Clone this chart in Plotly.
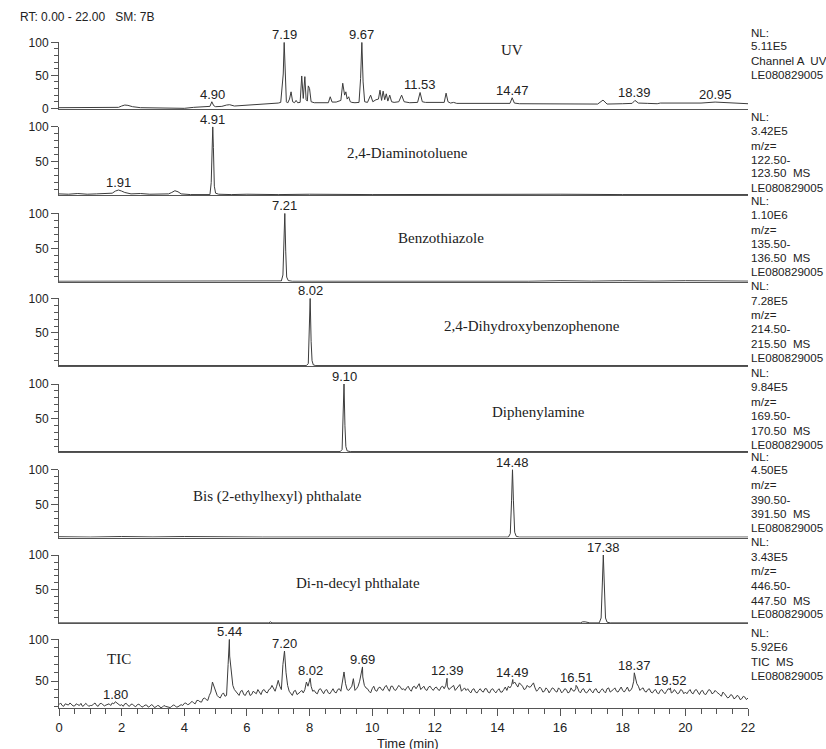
import plotly.graph_objects as go

# ---------------- data ----------------
# UV trace (Channel A), relative intensity vs retention time (min)
uv_t = [0, 1.5, 1.9, 2.0, 2.1, 2.2, 2.35, 2.6, 3.0, 3.6, 4.0, 4.3, 4.75, 4.82, 4.88, 4.94, 5.0, 5.2,
        5.35, 5.45, 5.6, 6.0, 6.5, 7.0, 7.08, 7.13, 7.16, 7.19, 7.22, 7.26, 7.3, 7.36, 7.41, 7.46,
        7.52, 7.57, 7.62, 7.7, 7.75, 7.8, 7.85, 7.89, 7.93, 7.96, 8.0, 8.05, 8.15, 8.4, 8.6, 8.66,
        8.72, 8.85, 9.0, 9.06, 9.12, 9.16, 9.2, 9.25, 9.3, 9.35, 9.45, 9.58, 9.63, 9.67, 9.71, 9.76,
        9.85, 9.95, 10.02, 10.12, 10.2, 10.25, 10.3, 10.35, 10.4, 10.45, 10.5, 10.56, 10.62, 10.7,
        10.85, 10.94, 11.02, 11.2, 11.45, 11.53, 11.6, 11.7, 11.8, 11.9, 12.2, 12.3, 12.36, 12.42,
        12.5, 12.6, 12.7, 13.0, 13.5, 14.0, 14.4, 14.47, 14.54, 14.7, 15.0, 15.3, 16.0, 17.2, 17.37,
        17.5, 18.0, 18.3, 18.39, 18.5, 18.8, 19.1, 19.2, 20.0, 20.5, 20.95, 21.2, 21.5, 22.0]
uv_v = [1, 1, 1.5, 3.5, 5, 4.5, 2.5, 1, 1, 0.5, 0, 1.5, 2, 3, 10, 4, 2.5, 3,
        5, 5.5, 3.5, 4.5, 6, 8, 9, 35, 52, 100, 50, 10, 8, 14, 25, 10,
        8.5, 12, 8.5, 9, 49, 15, 48, 13, 11, 34, 30, 10, 8.5, 8.5, 8.5, 17.5,
        9.5, 9.5, 12, 38, 20, 25, 14, 17.5, 10, 9, 8.5, 9, 45, 100, 40, 10,
        9, 20, 10, 13, 14, 27.5, 12, 26, 13, 22, 11, 20, 10, 9,
        10, 20, 10, 8.5, 9, 24, 10, 9, 9, 8.5, 8.5, 9, 23, 10,
        8, 9, 7.5, 7.5, 7, 7, 7.5, 16, 8, 7, 7, 6.5, 6.5, 6.5, 12.5,
        6.5, 7, 7.5, 12, 8, 7.5, 7, 8, 7.5, 8, 9.5, 9, 8, 7]

# Extracted ion chromatograms
dat_t = [0, 0.3, 0.6, 0.9, 1.2, 1.5, 1.7, 1.8, 1.9, 2.0, 2.1, 2.3, 2.6, 2.9, 3.2, 3.5, 3.6, 3.7,
         3.8, 3.9, 4.2, 4.6, 4.82, 4.86, 4.89, 4.91, 4.93, 4.96, 5.0, 5.1, 5.5, 6, 7, 8, 10, 12,
         14, 16, 18, 20, 22]
dat_v = [4, 3.5, 4.5, 3.5, 4, 4.5, 5, 8, 9.5, 8, 6, 4, 4.5, 3.5, 4, 4, 6, 8.5,
         7, 4, 3, 3, 3, 20, 80, 100, 70, 15, 5, 3.5, 3, 3.5, 3, 3.5, 3, 3.5,
         3, 3.5, 3, 3.5, 3]

bzt_t = [0, 6.95, 7.05, 7.10, 7.15, 7.18, 7.21, 7.24, 7.27, 7.32, 7.45, 15.0, 16.0, 17.0, 18.0,
         19.0, 20.0, 22.0]
bzt_v = [3, 3, 4, 3.5, 12, 60, 100, 45, 9, 4, 3, 3, 3.8, 3.2, 3.8, 3.2, 3.8, 3.2]

dhb_t = [0, 7.9, 7.96, 7.99, 8.02, 8.05, 8.08, 8.12, 8.2, 22]
dhb_v = [3, 3, 6, 40, 100, 38, 10, 4, 3, 3]

dpa_t = [0, 8.98, 9.04, 9.07, 9.10, 9.13, 9.16, 9.2, 9.3, 22]
dpa_v = [3, 3, 6, 45, 100, 40, 10, 4, 3, 3]

dehp_t = [0, 1, 2, 3, 4, 5, 6, 6.5, 14.35, 14.41, 14.45, 14.48, 14.51, 14.55, 14.6, 14.7, 22]
dehp_v = [3.5, 3, 3.8, 3.2, 3.8, 3.2, 3.6, 3, 3, 8, 55, 100, 55, 10, 4, 3, 3]

dndp_t = [0, 6.7, 6.75, 6.8, 16.65, 16.72, 16.8, 16.9, 16.95, 17.25, 17.31, 17.35, 17.38, 17.41,
          17.45, 17.5, 17.6, 22]
dndp_v = [3, 3, 4.5, 3, 3, 4.5, 4.5, 4, 3, 3, 10, 60, 100, 60, 10, 4, 3, 3]

# TIC: readings every 0.1 min from 0.0 to 22.0 ...
tic_step = 0.1
tic_grid = [22, 21, 23, 21.5, 22.5, 20.5, 22, 23.5, 21, 22, 21,
            22.5, 21, 23, 22, 21.5, 23, 24, 26, 23, 22,
            23, 21, 22.5, 20.5, 22, 21, 20, 21.5, 20, 21,
            19.5, 20.5, 19, 20, 18.5, 20, 21, 19.5, 22, 23.5,
            22, 25, 24, 27, 25.5, 29, 28, 33, 49, 40,
            31, 34, 32, 70, 60, 40, 35, 38, 34, 37,
            33, 38, 35, 36, 39, 37, 40, 45, 38, 51,
            40, 60, 45, 35, 38, 34, 37, 36, 49, 50,
            38, 36, 40, 37, 39, 36, 38, 37, 40, 38,
            61, 40, 42, 53, 41, 50, 55, 42, 38, 41,
            39, 42, 40, 43, 41, 44, 40, 42, 43, 41,
            42, 40, 43, 41, 47, 42, 40, 43, 41, 42,
            40, 43, 41, 44, 42, 45, 41, 46, 40, 39,
            38, 40, 37, 39, 38, 41, 37, 40, 38, 39,
            37, 40, 39, 42, 47, 45, 48, 44, 41, 43,
            46, 42, 40, 41, 38, 40, 39, 41, 37, 40,
            38, 40, 37, 39, 41, 38, 40, 37, 39, 38,
            40, 37, 39, 38, 41, 37, 40, 38, 41, 39,
            40, 38, 42, 55, 44, 41, 38, 40, 37, 39,
            36, 39, 37, 38, 40, 37, 38, 36, 39, 37,
            38, 36, 39, 37, 38, 35, 37, 39, 36, 37,
            34, 37, 33, 31, 33, 30, 32, 29, 31, 30]
# ... readings halfway between them (0.05, 0.15, ... 21.95) ...
tic_mid = [24, 20, 22, 24, 20.5, 23, 21, 20, 23.5, 20,
           21, 24, 20, 23.5, 20.5, 22, 21, 23, 24, 21,
           20, 23.5, 20, 22.5, 19.5, 22.5, 19, 21.5, 19, 22,
           18.5, 21, 18, 21, 19.5, 18.5, 21.5, 19, 20.5, 21,
           24, 22.5, 26, 23, 27, 25, 30, 27, 37, 44,
           33, 30, 36, 33, 80, 45, 38, 33, 39, 33,
           39, 34, 37, 40, 34, 40, 36, 41, 42, 44,
           44, 70, 60, 38, 33, 39, 35, 39, 40, 44,
           44, 39, 35, 41, 35, 40, 35, 41, 36, 41,
           50, 47, 39, 44, 39, 44, 60, 45, 41, 36,
           44, 38, 43, 39, 45, 38, 44, 39, 45, 40,
           39, 44, 38, 44, 45, 40, 44, 39, 44, 39,
           43, 39, 44, 45, 40, 44, 39, 43, 38, 42,
           41, 36, 41, 36, 41, 37, 41, 36, 41, 36,
           41, 37, 43, 44, 45, 49, 43, 46, 40, 45,
           43, 48, 38, 43, 37, 42, 36, 42, 38, 42,
           36, 41, 36, 42, 38, 43, 36, 41, 36, 41,
           36, 41, 36, 41, 36, 42, 38, 42, 37, 43,
           37, 43, 39, 50, 47, 39, 42, 37, 41, 36,
           40, 35, 40, 35, 41, 36, 40, 35, 40, 35,
           35, 40, 35, 40, 34, 39, 34, 40, 35, 39,
           36, 32, 35, 30, 34, 29, 33, 28, 32, 28]
# ... and the labelled apexes
tic_peak_t = [1.80, 5.44, 7.20, 8.02, 9.69, 12.39, 14.49, 16.51, 18.37, 19.52]
tic_peak_v = [25.5, 100, 86, 53.5, 67, 53.5, 52, 45, 60, 42]

# Labelled peaks of the upper panels
uv_labels_t = [4.90, 7.19, 9.67, 11.53, 14.47, 18.39, 20.95]
uv_labels_v = [10, 100, 100, 24, 16, 12, 9.5]
dat_labels = [(1.91, 9.5), (4.91, 100)]

panel_names = ["UV", "2,4-Diaminotoluene", "Benzothiazole", "2,4-Dihydroxybenzophenone",
               "Diphenylamine", "Bis (2-ethylhexyl) phthalate", "Di-n-decyl phthalate", "TIC"]
side_text = [
    ["NL:", "5.11E5", "Channel A  UV", "LE080829005"],
    ["NL:", "3.42E5", "m/z=", "122.50-", "123.50  MS", "LE080829005"],
    ["NL:", "1.10E6", "m/z=", "135.50-", "136.50  MS", "LE080829005"],
    ["NL:", "7.28E5", "m/z=", "214.50-", "215.50  MS", "LE080829005"],
    ["NL:", "9.84E5", "m/z=", "169.50-", "170.50  MS", "LE080829005"],
    ["NL:", "4.50E5", "m/z=", "390.50-", "391.50  MS", "LE080829005"],
    ["NL:", "3.43E5", "m/z=", "446.50-", "447.50  MS", "LE080829005"],
    ["NL:", "5.92E6", "TIC  MS", "LE080829005"],
]
x_ticks = [0, 2, 4, 6, 8, 10, 12, 14, 16, 18, 20, 22]

# ---------------- build TIC series ----------------
tic_pts = {round(i * tic_step, 2): v for i, v in enumerate(tic_grid)}
for i, v in enumerate(tic_mid):
    tic_pts[round(0.05 + i * tic_step, 2)] = v
for t, v in zip(tic_peak_t, tic_peak_v):
    tic_pts[round(t, 2)] = v
tic_t = sorted(tic_pts)
tic_v = [tic_pts[t] for t in tic_t]

series = [
    (uv_t, uv_v),
    (dat_t, dat_v),
    (bzt_t, bzt_v),
    (dhb_t, dhb_v),
    (dpa_t, dpa_v),
    (dehp_t, dehp_v),
    (dndp_t, dndp_v),
    (tic_t, tic_v),
]
peak_labels = [
    list(zip(uv_labels_t, uv_labels_v)),
    dat_labels,
    [(7.21, 100)],
    [(8.02, 100)],
    [(9.10, 100)],
    [(14.48, 100)],
    [(17.38, 100)],
    list(zip(tic_peak_t, tic_peak_v)),
]

# ---------------- layout geometry (pixels) ----------------
W, H = 826, 749
ML, MR, MT, MB = 59, 78, 42, 41
PW, PH = W - ML - MR, H - MT - MB
# (top, bottom, y range) of every panel
panels = [
    (42.3, 109.0, [-1, 100]),
    (126.7, 195.0, [2.4, 100]),
    (213.3, 281.7, [2.4, 100]),
    (298.3, 366.0, [2.4, 100]),
    (384.0, 452.0, [2.4, 100]),
    (469.5, 537.5, [2.4, 100]),
    (555.0, 623.3, [2.4, 100]),
    (639.3, 708.0, [18, 100]),
]
name_pos = [(512, 50), (407, 153), (441, 238), (532, 326), (538, 412), (277, 496), (358, 583),
            (118.5, 659)]
side_y = [
    [32, 46, 60.5, 74.5],
    [116.5, 130, 145, 159, 173, 187],
    [200, 214.3, 230, 243.3, 257.3, 271.7],
    [285.7, 300, 314.5, 328.5, 343, 357],
    [372, 386.7, 401.7, 415, 430, 444],
    [456.7, 470, 485, 500, 513, 527.7],
    [541.7, 556, 570, 585, 600, 613.3],
    [632, 646, 661, 675],
]

SANS = "Liberation Sans, Arial, sans-serif"
SERIF = "Liberation Serif, Times New Roman, serif"
INK = "#222222"
LINE = "#3c3c3c"
AXIS = "#555555"


def px_x(px):
    return (px - ML) / PW


def px_y(py):
    return (H - MB - py) / PH


fig = go.Figure()
annotations = []
layout = {}

for i, ((tt, vv), (top, bot, yr)) in enumerate(zip(series, panels), start=1):
    xa = "x" if i == 1 else f"x{i}"
    ya = "y" if i == 1 else f"y{i}"
    fig.add_trace(go.Scatter(x=tt, y=vv, mode="lines", xaxis=xa, yaxis=ya,
                             line=dict(color=LINE, width=1), hoverinfo="skip",
                             showlegend=False))
    last = i == len(series)
    xkey = "xaxis" if i == 1 else f"xaxis{i}"
    ykey = "yaxis" if i == 1 else f"yaxis{i}"
    layout[xkey] = dict(
        domain=[0, 1], range=[0, 22], anchor=ya, showline=True, linecolor=AXIS, linewidth=1,
        showgrid=False, zeroline=False,
        ticks="outside" if last else "", showticklabels=last,
        tickvals=x_ticks if last else [], ticklen=7, tickcolor=AXIS,
        tickfont=dict(family=SANS, size=13, color=INK),
        minor=dict(dtick=0.5, tick0=0, ticks="outside", ticklen=5, tickcolor=AXIS) if last else None,
    )
    yt = [0, 50, 100] if i == 1 else [50, 100]
    layout[ykey] = dict(
        domain=[px_y(bot), px_y(top)], range=yr, anchor=xa, showline=True, linecolor=AXIS,
        linewidth=1, showgrid=False, zeroline=False, ticks="outside", ticklen=7,
        tickcolor=AXIS, tickvals=yt, tickfont=dict(family=SANS, size=12, color=INK),
        minor=dict(dtick=10, tick0=0, ticks="outside", ticklen=4, tickcolor=AXIS),
    )
    # peak retention-time labels
    for t, v in peak_labels[i - 1]:
        annotations.append(dict(x=t, y=v, xref=xa, yref=ya, text=f"{t:.2f}", showarrow=False,
                                xanchor="center", yanchor="bottom", yshift=-2,
                                font=dict(family=SANS, size=13, color=INK)))
    # compound name
    nx, ny = name_pos[i - 1]
    annotations.append(dict(x=px_x(nx), y=px_y(ny), xref="paper", yref="paper",
                            text=panel_names[i - 1], showarrow=False, xanchor="center",
                            yanchor="middle", font=dict(family=SERIF, size=15, color=INK)))
    # normalisation level / scan filter block
    for txt, sy in zip(side_text[i - 1], side_y[i - 1]):
        annotations.append(dict(x=px_x(749), y=px_y(sy), xref="paper", yref="paper", text=txt,
                                showarrow=False, xanchor="left", yanchor="middle",
                                font=dict(family=SANS, size=11.6, color=INK)))

annotations.append(dict(x=px_x(18), y=px_y(17), xref="paper", yref="paper",
                        text="RT: 0.00 - 22.00   SM: 7B", showarrow=False, xanchor="left",
                        yanchor="middle", font=dict(family=SANS, size=12, color=INK)))
# axis title: fixed-height box so it sits snugly under the tick labels
annotations.append(dict(x=px_x(408), y=px_y(742.5), xref="paper", yref="paper",
                        text="Time (min)", showarrow=False, xanchor="center",
                        yanchor="middle", height=14, valign="middle",
                        font=dict(family=SANS, size=13, color=INK)))

fig.update_layout(
    width=W, height=H, margin=dict(l=ML, r=MR, t=MT, b=MB, pad=0),
    paper_bgcolor="white", plot_bgcolor="white", annotations=annotations, **layout,
)

fig.write_html("out.html", config={"displayModeBar": False})
